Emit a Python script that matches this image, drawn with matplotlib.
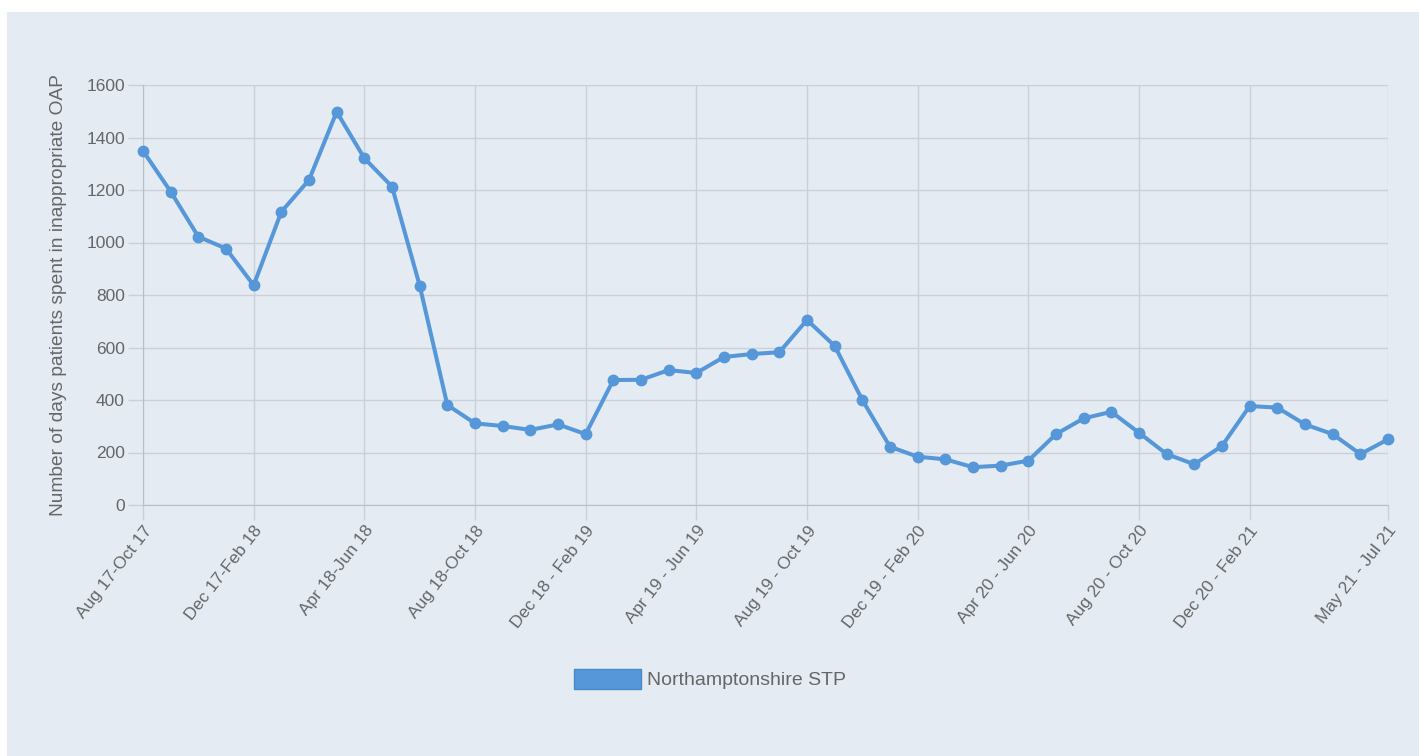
import matplotlib.pyplot as plt
import numpy as np
from matplotlib.patches import Patch, Rectangle

plt.rcParams['font.family'] = ['Liberation Sans', 'DejaVu Sans']

labels = ['Aug 17-Oct 17', 'Sep 17-Nov 17', 'Oct 17-Dec 17', 'Nov 17-Jan 18',
          'Dec 17-Feb 18', 'Jan 18-Mar 18', 'Feb 18-Apr 18', 'Mar 18-May 18',
          'Apr 18-Jun 18', 'May 18-Jul 18', 'Jun 18-Aug 18', 'Jul 18-Sep 18',
          'Aug 18-Oct 18', 'Sep 18-Nov 18', 'Oct 18-Dec 18', 'Nov 18-Jan 19',
          'Dec 18 - Feb 19', 'Jan 19 - Mar 19', 'Feb 19 - Apr 19', 'Mar 19 - May 19',
          'Apr 19 - Jun 19', 'May 19 - Jul 19', 'Jun 19 - Aug 19', 'Jul 19 - Sep 19',
          'Aug 19 - Oct 19', 'Sep 19 - Nov 19', 'Oct 19 - Dec 19', 'Nov 19 - Jan 20',
          'Dec 19 - Feb 20', 'Jan 20 - Mar 20', 'Feb 20 - Apr 20', 'Mar 20 - May 20',
          'Apr 20 - Jun 20', 'May 20 - Jul 20', 'Jun 20 - Aug 20', 'Jul 20 - Sep 20',
          'Aug 20 - Oct 20', 'Sep 20 - Nov 20', 'Oct 20 - Dec 20', 'Nov 20 - Jan 21',
          'Dec 20 - Feb 21', 'Jan 21 - Mar 21', 'Feb 21 - Apr 21', 'Mar 21 - May 21',
          'Apr 21 - Jun 21', 'May 21 - Jul 21']

days = [1349, 1194, 1022, 977, 837, 1117, 1238, 1498, 1321, 1213,
        836, 381, 311, 301, 286, 307, 270, 476, 477, 514,
        503, 564, 575, 582, 705, 606, 400, 222, 184, 174,
        144, 150, 169, 270, 330, 355, 275, 194, 155, 225,
        377, 371, 307, 270, 194, 250]

series_name = 'Northamptonshire STP'

line_col = '#5597d8'
bg_col = '#e4ebf2'
txt_col = '#666666'
grid_col = '#c9d0d8'

x = np.arange(len(days))
# chart.js style auto-skip: every 4th label, plus the last one
shown = [i for i in range(0, len(days) - 4, 4)] + [len(days) - 1]

fig = plt.figure(figsize=(14.19, 7.56), dpi=100)
fig.patch.set_facecolor('white')
fig.patches.append(Rectangle((7 / 1419, 0), 1, 1 - 12 / 756, transform=fig.transFigure,
                             facecolor=bg_col, edgecolor='none', zorder=-10))

ax = fig.add_axes([143 / 1419, 1 - 505 / 756, (1388 - 143) / 1419, (505 - 85) / 756])
ax.set_facecolor(bg_col)

ax.plot(x, days, color=line_col, lw=2.9, marker='o', ms=7.5, zorder=3, clip_on=False)

ax.set_xlim(0, len(days) - 1)
ax.set_ylim(0, 1600)
ax.set_yticks(np.arange(0, 1601, 200))
ax.set_xticks(shown)
ax.set_xticklabels([labels[i] for i in shown], rotation=52, ha='right',
                   rotation_mode='anchor', fontsize=12.5, color=txt_col)
ax.tick_params(axis='y', labelsize=12.5, labelcolor=txt_col)
ax.tick_params(length=11, width=1, color=grid_col, pad=2)

ax.grid(True, color=grid_col, lw=1)
ax.set_axisbelow(True)
for s in ['top', 'right']:
    ax.spines[s].set_visible(False)
for s in ['left', 'bottom']:
    ax.spines[s].set_color('#b8bfc8')

ax.set_ylabel('Number of days patients spent in inappropriate OAP', fontsize=13.8,
              color=txt_col, labelpad=14)

fig.legend(handles=[Patch(facecolor=line_col, edgecolor='#4a88c8', label=series_name)],
           loc='center', bbox_to_anchor=(710 / 1419, 1 - 679 / 756), frameon=False,
           fontsize=14, labelcolor=txt_col, handlelength=3.45, handleheight=1.2,
           handletextpad=0.35)

plt.savefig('out.png', dpi=100, facecolor=fig.get_facecolor())
